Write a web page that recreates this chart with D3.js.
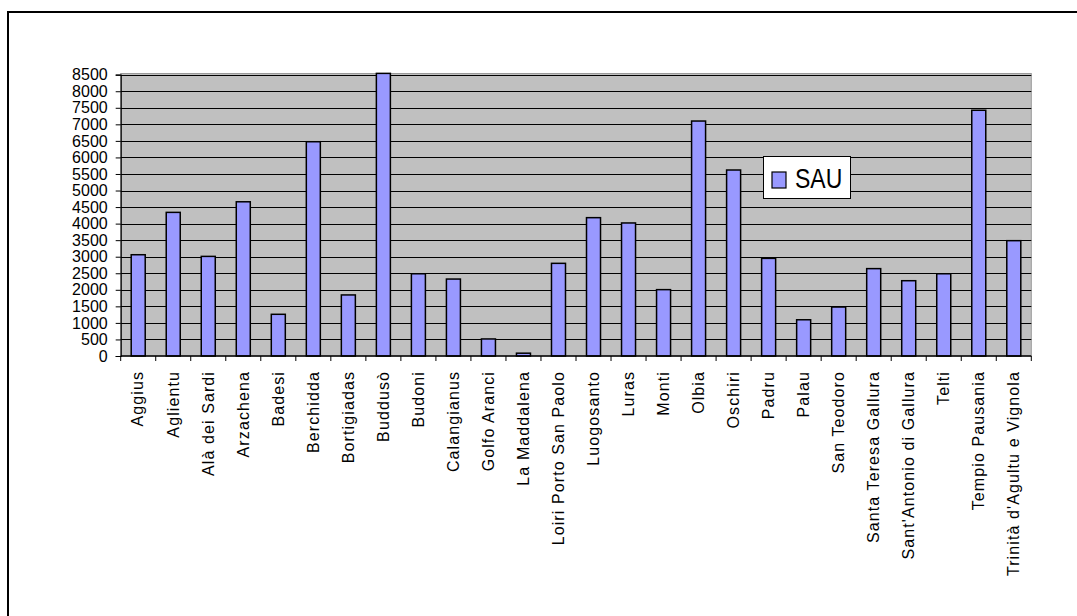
<!DOCTYPE html>
<html>
<head>
<meta charset="utf-8">
<script src="https://cdn.jsdelivr.net/npm/d3@7"></script>
<style>
  html, body { margin: 0; padding: 0; background: #fff; }
  svg { display: block; font-family: "Liberation Sans", Arial, sans-serif; }
</style>
</head>
<body>
<svg id="chart" width="1077" height="616"></svg>
<script>
const categories = [
  "Aggius", "Aglientu", "Alà dei Sardi", "Arzachena", "Badesi", "Berchidda",
  "Bortigiadas", "Buddusò", "Budoni", "Calangianus", "Golfo Aranci", "La Maddalena",
  "Loiri Porto San Paolo", "Luogosanto", "Luras", "Monti", "Olbia", "Oschiri",
  "Padru", "Palau", "San Teodoro", "Santa Teresa Gallura", "Sant'Antonio di Gallura",
  "Telti", "Tempio Pausania", "Trinità d'Agultu e Vignola"
];
const sauValues = [
  3060, 4340, 3010, 4660, 1260, 6475,
  1845, 8540, 2485, 2325, 515, 85,
  2800, 4180, 4020, 2005, 7100, 5620,
  2950, 1095, 1480, 2640, 2275,
  2485, 7425, 3485
];
const yTicks = [0, 500, 1000, 1500, 2000, 2500, 3000, 3500, 4000, 4500, 5000, 5500, 6000, 6500, 7000, 7500, 8000, 8500];
const seriesName = "SAU";

const svg = d3.select("#chart");
const plot = { left: 120.7, right: 1031.3, top: 74.7, bottom: 356 };

const x = d3.scaleBand().domain(categories).range([plot.left, plot.right]).paddingInner(0.6).paddingOuter(0.3);
const y = d3.scaleLinear().domain([0, 8500]).range([plot.bottom, plot.top]);

// outer chart border (extends past the image on right/bottom)
svg.append("rect")
  .attr("x", 8).attr("y", 12).attr("width", 1200).attr("height", 700)
  .attr("fill", "#fff").attr("stroke", "#000").attr("stroke-width", 2);

// plot background
svg.append("rect")
  .attr("x", plot.left).attr("y", plot.top - 1.2)
  .attr("width", plot.right - plot.left).attr("height", plot.bottom - plot.top + 1.2)
  .attr("fill", "#C0C0C0").attr("stroke", "#9a9a9a").attr("stroke-width", 1);

// gridlines
svg.append("g").selectAll("line")
  .data(yTicks.filter(d => d > 0))
  .join("line")
  .attr("x1", plot.left).attr("x2", plot.right)
  .attr("y1", d => Math.round(y(d)) + 0.5).attr("y2", d => Math.round(y(d)) + 0.5)
  .attr("stroke", "#000").attr("stroke-width", 1);

// bars
svg.append("g").selectAll("rect")
  .data(categories.map((c, i) => ({ c, v: sauValues[i] })))
  .join("rect")
  .attr("x", d => x(d.c))
  .attr("width", x.bandwidth())
  .attr("y", d => y(d.v))
  .attr("height", d => y(0) - y(d.v))
  .attr("fill", "#9999FF")
  .attr("stroke", "#000").attr("stroke-width", 1.5);

// y axis
const yAxis = d3.axisLeft(y).tickValues(yTicks).tickSize(5).tickPadding(8).tickFormat(d3.format("d"));
const gy = svg.append("g").attr("transform", `translate(${plot.left},0)`).call(yAxis);
gy.select(".domain").attr("stroke", "#000").attr("stroke-width", 1.2);
gy.selectAll(".tick line").attr("stroke", "#000");
gy.selectAll(".tick text").attr("font-size", 16).attr("fill", "#000")
  .attr("font-family", "'Liberation Sans', Arial, sans-serif");

// x axis line and boundary ticks
const step = x.step();
const boundaries = d3.range(categories.length + 1).map(i => plot.left + i * (plot.right - plot.left) / categories.length);
svg.append("line")
  .attr("x1", plot.left).attr("x2", plot.right)
  .attr("y1", plot.bottom).attr("y2", plot.bottom)
  .attr("stroke", "#000").attr("stroke-width", 1.5);
svg.append("g").selectAll("line")
  .data(boundaries)
  .join("line")
  .attr("x1", d => d).attr("x2", d => d)
  .attr("y1", plot.bottom).attr("y2", plot.bottom + 5)
  .attr("stroke", "#000").attr("stroke-width", 1);

// x labels
svg.append("g").selectAll("text")
  .data(categories)
  .join("text")
  .attr("transform", d => `translate(${x(d) + x.bandwidth() / 2},371) rotate(-90)`)
  .attr("dy", "0.33em")
  .attr("text-anchor", "end")
  .attr("font-size", 16)
  .attr("letter-spacing", "1.1px")
  .attr("fill", "#000")
  .text(d => d);

// legend
const lg = svg.append("g");
lg.append("rect")
  .attr("x", 763.5).attr("y", 156.5).attr("width", 87).attr("height", 42)
  .attr("fill", "#fff").attr("stroke", "#000").attr("stroke-width", 1);
lg.append("rect")
  .attr("x", 772).attr("y", 172).attr("width", 14).attr("height", 16)
  .attr("fill", "#9999FF").attr("stroke", "#000").attr("stroke-width", 1.2);
lg.append("text")
  .attr("transform", "translate(795,187.7) scale(1,1.18)")
  .attr("font-size", 23)
  .attr("fill", "#000")
  .text(seriesName);
</script>
</body>
</html>
